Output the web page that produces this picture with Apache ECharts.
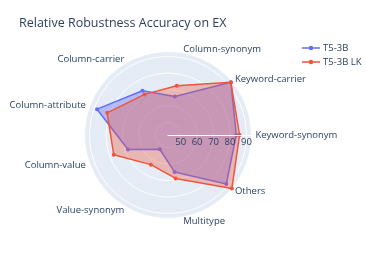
<!DOCTYPE html>
<html><head><meta charset="utf-8">
<script src="https://cdn.jsdelivr.net/npm/echarts@6/dist/echarts.min.js"></script>
<style>html,body{margin:0;padding:0;background:#fff}#c{width:366px;height:261px}</style>
</head><body><div id="c"></div>
<script>
const categories = ['Keyword-synonym','Keyword-carrier','Column-synonym','Column-carrier','Column-attribute','Column-value','Value-synonym','Multitype','Others'];
const t5 = [83.8, 92.2, 66.1, 73.4, 88.2, 68.2, 52.3, 65.1, 88.6];
const t5lk = [85.8, 92.2, 72.7, 70.8, 81.7, 77.4, 63.1, 69.1, 93.0];
const seriesNames = ['T5-3B', 'T5-3B LK'];
const radialTicks = [50, 60, 70, 80, 90];
const rMin = 42.3, rMax = 93.0;

const FONT = '"Open Sans", sans-serif';
const TXT = '#2a3f5f';
const C = [168, 135], R = 83.4;
const step = 360 / categories.length;

const chart = echarts.init(document.getElementById('c'), null, {renderer: 'canvas'});
chart.setOption({
  animation: false,
  title: {text: 'Relative Robustness Accuracy on EX', left: 14, top: 12,
    textStyle: {fontFamily: FONT, fontSize: 12.5, fontWeight: 'normal', color: TXT}},
  legend: {
    orient: 'vertical', left: 297, top: 38, itemGap: 4, itemWidth: 18, itemHeight: 7,
    data: seriesNames,
    icon: 'path://M0,4L20,4L20,5.5L0,5.5Z M10,2.25A2.5,2.5,0,1,1,10,7.25A2.5,2.5,0,1,1,10,2.25Z',
    textStyle: {fontFamily: FONT, fontSize: 9.5, color: TXT, padding: [0, 0, 0, -2]}
  },
  polar: [{center: C, radius: R}, {center: C, radius: R}],
  angleAxis: [
    {polarIndex: 0, type: 'value', min: 0, max: 360, interval: step, startAngle: 0, clockwise: false,
     axisLine: {show: false}, axisTick: {show: false}, axisLabel: {show: false},
     splitArea: {show: true, areaStyle: {color: ['#E5ECF6']}},
     splitLine: {show: true, lineStyle: {color: '#ffffff', width: 1}}, z: 0},
    {polarIndex: 1, type: 'value', min: 0, max: 360, startAngle: 0, clockwise: false, show: false}
  ],
  radiusAxis: [
    {polarIndex: 0, type: 'value', min: rMin, max: rMax, splitNumber: 5,
     axisLine: {show: false}, axisTick: {show: false}, axisLabel: {show: false},
     splitLine: {show: true, lineStyle: {color: '#ffffff', width: 1}},
     splitArea: {show: false}, z: 1},
    {polarIndex: 1, type: 'value', min: rMin, max: rMax, splitNumber: 5, z: 10,
     axisLine: {show: true, lineStyle: {color: '#ffffff', width: 1}}, axisTick: {show: false},
     splitLine: {show: false}, splitArea: {show: false},
     axisLabel: {show: true, showMinLabel: false, showMaxLabel: false, margin: -2.5, verticalAlign: 'top',
       color: TXT, fontFamily: FONT, fontSize: 9.5,
       formatter: v => radialTicks.indexOf(Math.round(v * 1000) / 1000) >= 0 ? String(Math.round(v)) : ''}}
  ],
  radar: {
    center: C, radius: R, startAngle: 0, shape: 'circle',
    indicator: categories.map(n => ({name: n, min: rMin, max: rMax})),
    axisName: {color: TXT, fontFamily: FONT, fontSize: 9.5},
    axisNameGap: 4,
    splitLine: {show: false}, splitArea: {show: false}, axisLine: {show: false},
    axisTick: {show: false}, axisLabel: {show: false}
  },
  series: [
    {type: 'radar', name: seriesNames[0], symbol: 'circle', symbolSize: 4, z: 3,
     lineStyle: {width: 1.5, color: '#636efa'}, itemStyle: {color: '#636efa'},
     areaStyle: {color: 'rgba(99,110,250,0.55)'},
     data: [{name: seriesNames[0], value: t5}]},
    {type: 'radar', name: seriesNames[1], symbol: 'circle', symbolSize: 4, z: 4,
     lineStyle: {width: 1.5, color: '#EF553B'}, itemStyle: {color: '#EF553B'},
     areaStyle: {color: 'rgba(239,85,59,0.5)'},
     data: [{name: seriesNames[1], value: t5lk}]}
  ]
});
</script></body></html>
